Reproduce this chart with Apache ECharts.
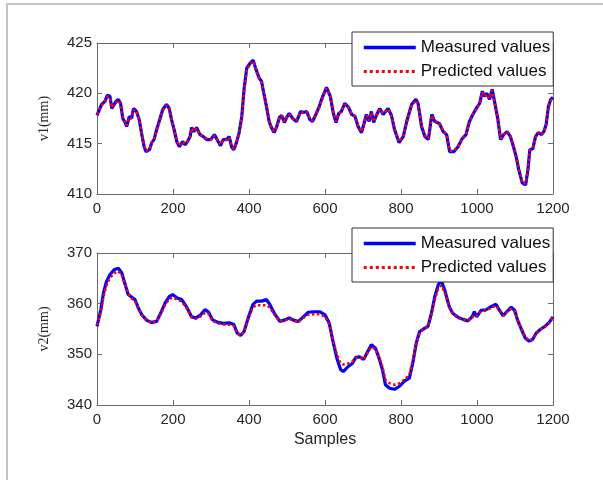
<!DOCTYPE html>
<html>
<head>
<meta charset="utf-8">
<script src="https://cdn.jsdelivr.net/npm/echarts@6/dist/echarts.min.js"></script>
<style>
  html, body { margin: 0; padding: 0; background: #fff; }
  #chart { width: 603px; height: 480px; }
</style>
</head>
<body>
<div id="chart"></div>
<script>
// sample positions and values
var v1X = [0, 4, 12, 21, 27, 34, 39, 43, 50, 56, 62, 68, 74, 78, 85, 91, 96, 104, 111, 118,
  124, 129, 138, 144, 150, 157, 166, 173, 183, 190, 196, 203, 210, 217, 225, 232, 238, 245, 249, 255,
  262, 271, 280, 289, 299, 309, 319, 325, 332, 341, 348, 354, 360, 367, 374, 381, 387, 394, 403, 411,
  418, 427, 433, 439, 446, 453, 459, 466, 473, 480, 486, 493, 499, 506, 515, 525, 536, 543, 552, 560,
  567, 576, 585, 591, 604, 614, 622, 629, 636, 643, 652, 662, 670, 679, 687, 696, 702, 709, 716, 722,
  728, 735, 744, 753, 766, 775, 783, 795, 806, 815, 828, 839, 845, 854, 863, 872, 881, 889, 901, 911,
  920, 928, 939, 950, 961, 971, 980, 989, 998, 1007, 1014, 1020, 1026, 1033, 1040, 1046, 1055, 1062, 1070, 1079,
  1088, 1096, 1103, 1110, 1119, 1128, 1134, 1139, 1147, 1154, 1161, 1170, 1176, 1182, 1188, 1194, 1200];

var v1Measured = [417.8, 417.9, 418.9, 419.2, 419.8, 419.7, 418.5, 418.5, 419.2, 419.4, 419.0, 417.5, 417.1, 416.7, 417.7, 417.5, 418.5, 418.2, 417.4, 415.9,
  414.7, 414.2, 414.4, 415.1, 415.4, 416.4, 417.5, 418.4, 418.9, 418.5, 417.4, 416.4, 415.2, 414.7, 415.2, 414.9, 415.2, 415.7, 416.6, 416.2,
  416.6, 415.9, 415.7, 415.4, 415.4, 415.9, 415.2, 414.8, 415.4, 415.4, 415.7, 414.7, 414.4, 415.1, 416.1, 417.7, 420.4, 422.5, 423.0, 423.3,
  422.4, 421.5, 421.2, 420.0, 418.7, 417.2, 416.6, 416.1, 416.7, 417.6, 417.8, 417.1, 417.6, 418.0, 417.5, 417.2, 418.2, 418.1, 418.2, 417.4,
  417.2, 417.9, 418.7, 419.4, 420.6, 419.7, 418.0, 417.1, 418.0, 418.2, 419.0, 418.6, 417.9, 417.7, 416.7, 416.1, 416.9, 417.9, 417.2, 418.2,
  417.1, 417.8, 418.5, 417.9, 418.5, 417.8, 416.4, 415.1, 415.7, 417.2, 418.9, 419.4, 419.0, 416.7, 415.7, 415.4, 417.9, 417.2, 417.0, 416.2,
  415.9, 414.2, 414.2, 414.7, 415.5, 415.9, 417.2, 417.9, 418.5, 419.0, 420.2, 419.7, 420.0, 419.4, 420.4, 419.2, 417.4, 415.4, 415.9, 416.2,
  415.7, 414.7, 413.7, 412.4, 411.1, 410.9, 412.4, 414.4, 414.5, 415.7, 416.1, 415.9, 416.2, 416.9, 418.7, 419.4, 419.6];

var v1Predicted = [417.9, 418.0, 418.8, 419.2, 419.7, 419.6, 418.6, 418.5, 419.1, 419.3, 419.0, 417.6, 417.1, 416.8, 417.6, 417.5, 418.4, 418.2, 417.4, 416.0,
  414.8, 414.3, 414.4, 415.1, 415.4, 416.3, 417.4, 418.3, 418.8, 418.5, 417.5, 416.4, 415.3, 414.8, 415.2, 415.0, 415.2, 415.7, 416.5, 416.2,
  416.5, 415.9, 415.7, 415.5, 415.4, 415.8, 415.3, 414.9, 415.4, 415.4, 415.6, 414.8, 414.5, 415.1, 416.0, 417.6, 420.2, 422.3, 422.9, 423.2,
  422.4, 421.5, 421.1, 420.0, 418.8, 417.3, 416.6, 416.2, 416.7, 417.5, 417.8, 417.2, 417.6, 417.9, 417.5, 417.3, 418.1, 418.1, 418.2, 417.5,
  417.3, 417.9, 418.6, 419.3, 420.5, 419.7, 418.1, 417.2, 417.9, 418.2, 418.9, 418.6, 418.0, 417.7, 416.8, 416.2, 416.9, 417.8, 417.3, 418.1,
  417.2, 417.8, 418.4, 418.0, 418.4, 417.8, 416.5, 415.2, 415.7, 417.1, 418.8, 419.3, 419.0, 416.8, 415.8, 415.5, 417.8, 417.2, 417.0, 416.3,
  415.9, 414.3, 414.3, 414.7, 415.5, 415.9, 417.1, 417.9, 418.4, 419.0, 420.1, 419.7, 419.9, 419.5, 420.3, 419.2, 417.5, 415.5, 415.9, 416.2,
  415.7, 414.8, 413.8, 412.5, 411.2, 411.0, 412.4, 414.3, 414.5, 415.6, 416.1, 415.9, 416.2, 416.9, 418.6, 419.3, 419.5];

var v2X = [0, 4, 10, 17, 25, 34, 45, 56, 65, 74, 82, 91, 100, 109, 118, 131, 144, 157, 168, 179,
  190, 199, 211, 223, 236, 249, 260, 273, 284, 293, 304, 319, 332, 350, 360, 369, 378, 387, 398, 410,
  420, 433, 446, 455, 466, 481, 495, 506, 518, 530, 543, 556, 571, 587, 600, 611, 620, 631, 641, 648,
  661, 672, 681, 691, 702, 710, 722, 733, 742, 751, 759, 770, 783, 796, 809, 822, 831, 840, 849, 859,
  871, 880, 889, 898, 906, 915, 927, 936, 950, 963, 976, 987, 993, 999, 1011, 1024, 1037, 1050, 1059, 1069,
  1078, 1090, 1099, 1107, 1116, 1127, 1137, 1146, 1156, 1168, 1179, 1190, 1200];

var v2Measured = [355.5, 355.7, 358.8, 362.1, 364.4, 365.7, 366.7, 367.0, 366.1, 363.8, 361.8, 361.3, 360.8, 359.1, 357.8, 356.7, 356.3, 356.5, 358.2, 360.1,
  361.4, 361.8, 361.1, 360.8, 359.3, 357.4, 357.2, 357.8, 358.8, 358.4, 356.8, 356.3, 356.1, 356.2, 355.9, 354.2, 353.7, 354.5, 357.2, 359.8,
  360.5, 360.5, 360.8, 359.8, 358.2, 356.5, 356.8, 357.2, 356.7, 356.5, 357.4, 358.3, 358.4, 358.4, 357.8, 356.2, 352.9, 349.3, 347.0, 346.6,
  347.6, 348.2, 349.4, 349.5, 349.0, 350.2, 351.9, 351.2, 349.3, 347.0, 344.0, 343.3, 343.1, 343.7, 344.7, 345.3, 348.3, 352.2, 354.5, 355.0,
  355.5, 358.1, 361.4, 363.7, 364.6, 362.7, 359.4, 358.1, 357.3, 356.9, 356.6, 357.4, 358.4, 357.4, 358.7, 358.8, 359.4, 359.9, 358.7, 357.6,
  358.4, 359.3, 358.7, 356.7, 355.1, 353.2, 352.6, 352.9, 354.2, 355.0, 355.5, 356.3, 357.4];

var v2Predicted = [355.8, 356.0, 358.3, 361.3, 363.6, 365.0, 366.0, 366.4, 365.6, 363.8, 362.0, 361.0, 360.6, 359.0, 357.7, 356.6, 356.2, 356.5, 358.0, 359.7,
  360.9, 361.2, 360.8, 360.4, 359.1, 357.3, 357.0, 357.5, 358.2, 358.0, 356.6, 356.1, 355.9, 355.8, 355.6, 354.2, 353.7, 354.5, 356.9, 359.3,
  359.7, 359.7, 359.7, 359.2, 357.9, 356.5, 356.7, 357.0, 356.6, 356.4, 357.2, 357.8, 357.9, 357.9, 357.4, 356.0, 353.2, 350.0, 348.2, 348.0,
  348.2, 348.6, 349.3, 349.4, 349.0, 350.0, 351.5, 351.0, 349.5, 347.6, 345.0, 344.3, 344.0, 344.3, 345.0, 346.0, 348.8, 352.0, 354.2, 354.9,
  355.5, 357.8, 360.8, 363.0, 363.6, 362.2, 359.3, 358.0, 357.2, 356.8, 356.6, 357.2, 357.8, 357.6, 358.5, 358.6, 359.2, 359.6, 358.6, 357.6,
  358.3, 359.0, 358.5, 356.8, 355.2, 353.4, 352.8, 353.0, 354.2, 355.0, 355.4, 356.2, 357.2];

var xTicks = { min: 0, max: 1200, interval: 200 };
var names = ['Measured values', 'Predicted values'];

function pairs(xs, ys) {
  return xs.map(function (x, i) { return [x, ys[i]]; });
}

var axisColor = '#6b6b6b';
var labelFont = { color: '#262626', fontSize: 15, fontFamily: 'Liberation Sans, Arial, sans-serif' };

function xAxisOf(gridIndex, pos, showLabels, name) {
  return {
    type: 'value', gridIndex: gridIndex, position: pos,
    min: xTicks.min, max: xTicks.max, interval: xTicks.interval,
    name: name || '', nameLocation: 'middle', nameGap: 27,
    nameTextStyle: { color: '#262626', fontSize: 16, fontFamily: 'Liberation Sans, Arial, sans-serif' },
    axisLine: { show: true, onZero: false, lineStyle: { color: axisColor, width: 1 } },
    axisTick: { show: true, inside: true, length: 5, lineStyle: { color: axisColor } },
    axisLabel: Object.assign({ show: showLabels, margin: 7, formatter: function (v) { return String(v); } }, labelFont),
    splitLine: { show: false }
  };
}

function yAxisOf(gridIndex, pos, min, max, interval, showLabels, name) {
  return {
    type: 'value', gridIndex: gridIndex, position: pos,
    min: min, max: max, interval: interval,
    name: name || '', nameLocation: 'middle', nameGap: 46, nameRotate: 90,
    nameTextStyle: { color: '#262626', fontSize: 14, fontFamily: 'Liberation Serif, Times New Roman, serif' },
    axisLine: { show: true, onZero: false, lineStyle: { color: axisColor, width: 1 } },
    axisTick: { show: true, inside: true, length: 5, lineStyle: { color: axisColor } },
    axisLabel: Object.assign({ show: showLabels, margin: 5 }, labelFont),
    splitLine: { show: false }
  };
}

function legendAt(top) {
  return {
    left: 352, top: top,
    orient: 'vertical',
    data: [
      { name: names[0], lineStyle: { width: 3.5 } },
      { name: names[1], lineStyle: { width: 3 } }
    ],
    itemWidth: 52, itemHeight: 12, itemGap: 7,
    padding: [7, 3, 6, 10],
    borderColor: '#333', borderWidth: 1, borderRadius: 0,
    backgroundColor: '#fff',
    selectedMode: false,
    itemStyle: { opacity: 0 },
    textStyle: { color: '#111', fontSize: 17, lineHeight: 17, fontFamily: 'Liberation Sans, Arial, sans-serif' }
  };
}

var measuredStyle = { color: '#0000ff', width: 3.2, type: 'solid' };
var predictedStyle = { color: '#ff0000', width: 2.5, type: 'dotted' };

var chart = echarts.init(document.getElementById('chart'), null, { renderer: 'canvas' });
chart.setOption({
  animation: false,
  backgroundColor: '#fff',
  graphic: [{
    type: 'polyline', silent: true,
    shape: { points: [[7, 480], [7, 4], [603, 4]] },
    style: { stroke: '#c4c4c4', lineWidth: 2, fill: null }
  }],
  grid: [
    { left: 97, top: 43, width: 456, height: 151 },
    { left: 97, top: 253, width: 456, height: 152 }
  ],
  legend: [legendAt(32), legendAt(228)],
  xAxis: [
    xAxisOf(0, 'bottom', true),
    xAxisOf(0, 'top', false),
    xAxisOf(1, 'bottom', true, 'Samples'),
    xAxisOf(1, 'top', false)
  ],
  yAxis: [
    yAxisOf(0, 'left', 410, 425, 5, true, 'v1(mm)'),
    yAxisOf(0, 'right', 410, 425, 5, false),
    yAxisOf(1, 'left', 340, 370, 10, true, 'v2(mm)'),
    yAxisOf(1, 'right', 340, 370, 10, false)
  ],
  series: [
    { name: names[0], type: 'line', xAxisIndex: 0, yAxisIndex: 0, symbol: 'none', lineStyle: measuredStyle, itemStyle: { color: '#0000ff' }, data: pairs(v1X, v1Measured), z: 2 },
    { name: names[1], type: 'line', xAxisIndex: 0, yAxisIndex: 0, symbol: 'none', lineStyle: predictedStyle, itemStyle: { color: '#ff0000' }, data: pairs(v1X, v1Predicted), z: 3 },
    { name: names[0], type: 'line', xAxisIndex: 2, yAxisIndex: 2, symbol: 'none', lineStyle: measuredStyle, itemStyle: { color: '#0000ff' }, data: pairs(v2X, v2Measured), z: 2 },
    { name: names[1], type: 'line', xAxisIndex: 2, yAxisIndex: 2, symbol: 'none', lineStyle: predictedStyle, itemStyle: { color: '#ff0000' }, data: pairs(v2X, v2Predicted), z: 3 }
  ]
});
</script>
</body>
</html>
